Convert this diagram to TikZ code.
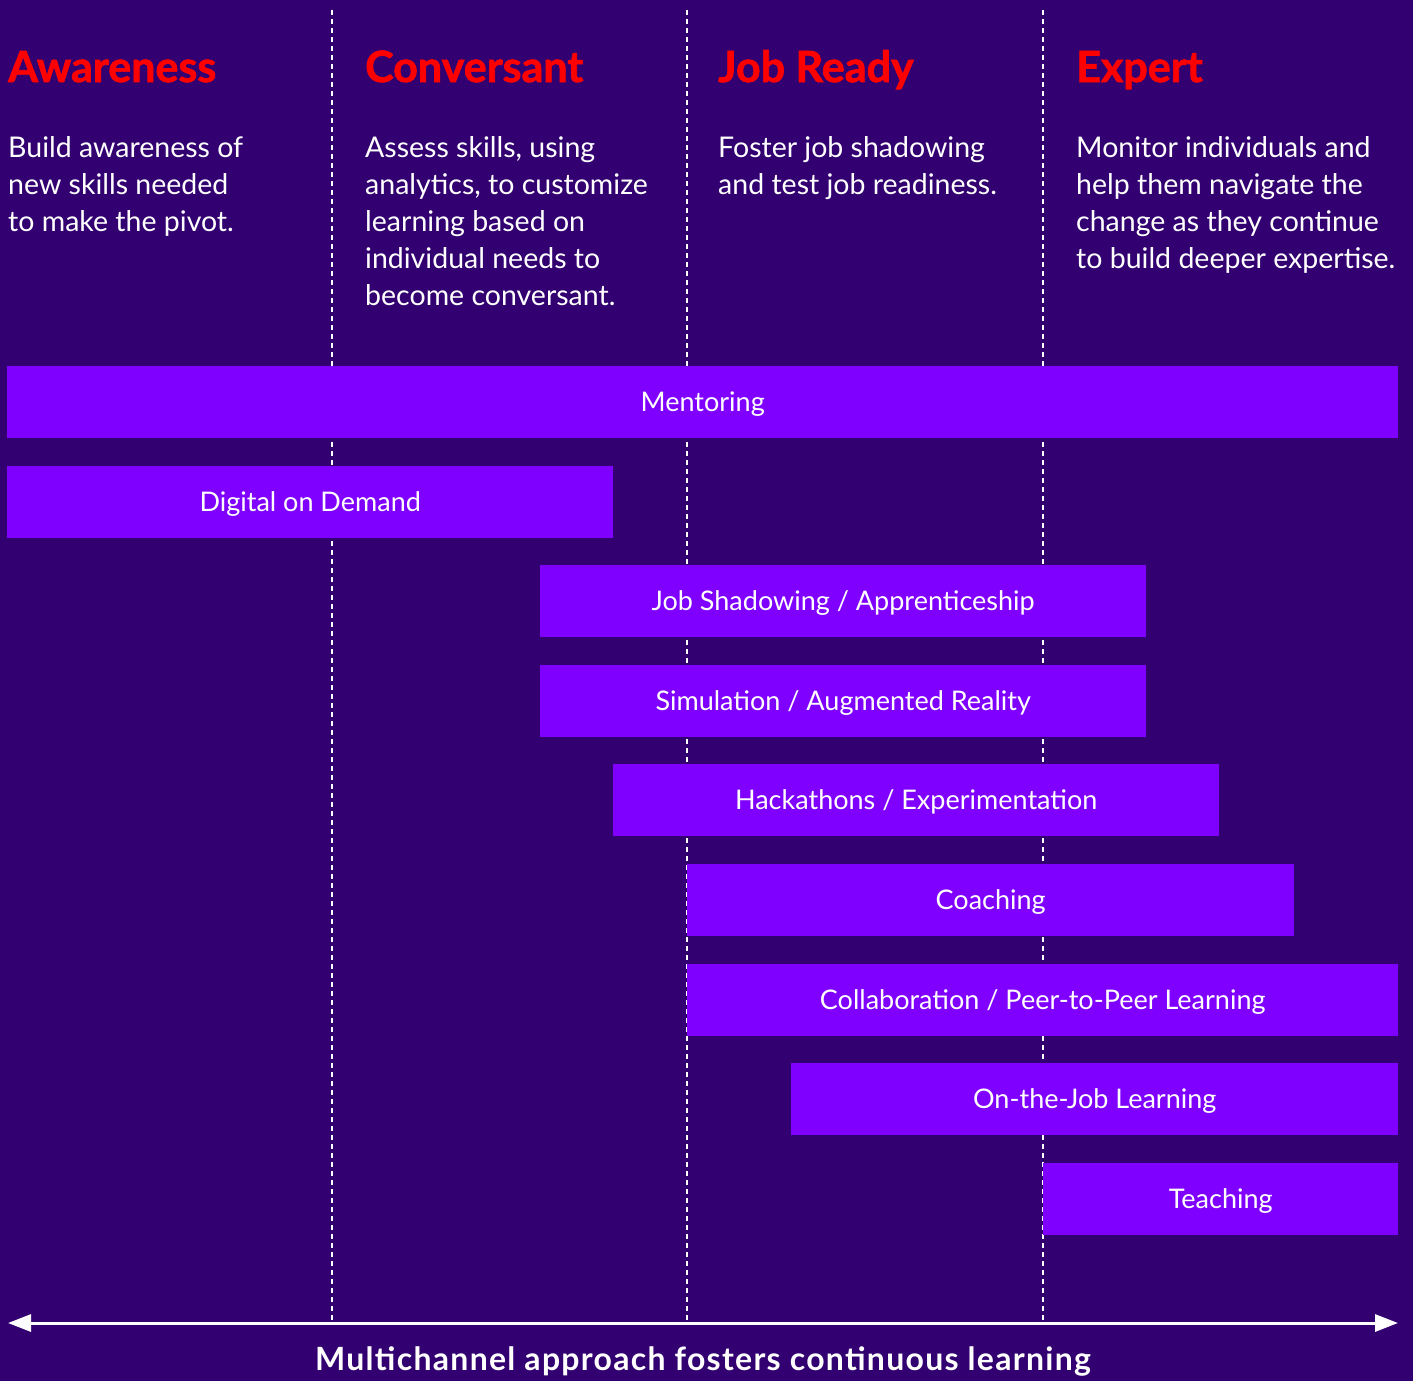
\documentclass[tikz,border=0pt]{standalone}
\usepackage{fontspec}
\setmainfont{Lato}
\newfontfamily\headfont{Lato}[BoldFeatures={FakeBold=1.6}]
\usetikzlibrary{arrows.meta}
\definecolor{bgpurple}{HTML}{320070}
\definecolor{barpurple}{HTML}{7F00FF}
\definecolor{headred}{HTML}{FF0000}

\begin{document}
\begin{tikzpicture}
	[x=1pt, y=-1pt,
	 bar/.style = {fill=barpurple, anchor=north west, minimum height=72pt, inner sep=0pt, text height=19.5pt, text depth=0pt, text=white, font=\fontsize{27}{30}\selectfont},
	 head/.style = {anchor=base west, inner sep=0pt, text=headred, font=\fontsize{43}{46}\headfont\bfseries},
	 body/.style = {anchor=north west, inner sep=0pt, align=left, text=white, font=\fontsize{28.5}{37}\selectfont},
	 sep/.style = {white, line width=1.5pt, dash pattern=on 5pt off 4pt}]
	\fill[bgpurple] (0,0) rectangle (1413,1381);

	% column separators
	\coordinate (s1t) at (332,10);  \coordinate (s1b) at (332,1322);
	\coordinate (s2t) at (687,10);  \coordinate (s2b) at (687,1322);
	\coordinate (s3t) at (1043,10); \coordinate (s3b) at (1043,1322);
	\draw[sep] (s1t) -- (s1b);
	\draw[sep] (s2t) -- (s2b);
	\draw[sep] (s3t) -- (s3b);

	% stages
	\node[head] (h1) at (8,82) {Awareness};
	\node[head] (h2) at (365,82) {Conversant};
	\node[head] (h3) at (718,82) {Job Ready};
	\node[head] (h4) at (1076,82) {Expert};

	\node[body] (b1) at (8,136) {Build awareness of\\new skills needed\\to make the pivot.};
	\node[body] (b2) at (365,136) {Assess skills, using\\analytics, to customize\\learning based on\\individual needs to\\become conversant.};
	\node[body] (b3) at (718,136) {Foster job shadowing\\and test job readiness.};
	\node[body] (b4) at (1076,136) {Monitor individuals and\\help them navigate the\\change as they continue\\to build deeper expertise.};

	% channels
	\node[bar, minimum width=1391pt] (c1) at (7,366) {Mentoring};
	\node[bar, minimum width=606pt] (c2) at (7,466) {Digital on Demand};
	\node[bar, minimum width=606pt] (c3) at (540,565) {Job Shadowing / Apprenticeship};
	\node[bar, minimum width=606pt] (c4) at (540,665) {Simulation / Augmented Reality};
	\node[bar, minimum width=606pt] (c5) at (613,764) {Hackathons / Experimentation};
	\node[bar, minimum width=607pt] (c6) at (687,864) {Coaching};
	\node[bar, minimum width=711pt] (c7) at (687,964) {Collaboration / Peer-to-Peer Learning};
	\node[bar, minimum width=607pt] (c8) at (791,1063) {On-the-Job Learning};
	\node[bar, minimum width=355pt] (c9) at (1043,1163) {Teaching};

	% continuum
	\coordinate (al) at (8,1323);
	\coordinate (ar) at (1398,1323);
	\draw[white, line width=3pt, {Triangle[length=23pt, width=17pt]}-{Triangle[length=23pt, width=17pt]}] (al) -- (ar);
	\node[anchor=base, inner sep=0pt, text=white, font=\fontsize{32}{34}\selectfont\bfseries\addfontfeatures{LetterSpace=4}] (t) at (703,1370) {Multichannel approach fosters continuous learning};
\end{tikzpicture}
\end{document}
